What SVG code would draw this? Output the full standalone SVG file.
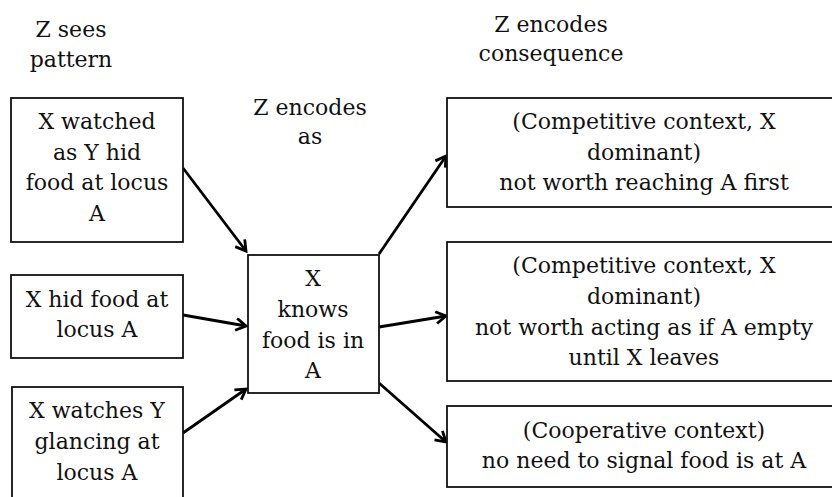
<svg xmlns="http://www.w3.org/2000/svg" width="832" height="497" viewBox="0 0 832 497">
<defs>
<style>
text{font-family:"DejaVu Serif","Liberation Serif",serif;font-size:22px;fill:#111;text-anchor:middle}
.box{fill:#fff;stroke:#111;stroke-width:1.8}
.conn line{stroke:#000;stroke-width:2.8;marker-end:url(#arr)}
</style>
<marker id="arr" markerUnits="userSpaceOnUse" markerWidth="16" markerHeight="16" refX="12" refY="7" orient="auto">
<path d="M2,1 L12,7 L2,13" fill="none" stroke="#000" stroke-width="2.8" stroke-linejoin="miter"/>
</marker>
</defs>
<rect width="832" height="497" fill="#fff"/>
<g id="labels">
<text x="71" y="37">Z sees</text>
<text x="71" y="67">pattern</text>
<text x="310" y="115">Z encodes</text>
<text x="310" y="144">as</text>
<text x="551" y="32">Z encodes</text>
<text x="551" y="61">consequence</text>
</g>
<g id="conn" class="conn">
<line x1="183" y1="168" x2="246" y2="251"/>
<line x1="183" y1="315" x2="246" y2="326"/>
<line x1="183" y1="433" x2="246" y2="389"/>
<line x1="379" y1="254" x2="446" y2="156"/>
<line x1="379" y1="327" x2="446" y2="316"/>
<line x1="379" y1="383" x2="446" y2="442"/>
</g>
<g id="n1"><rect class="box" x="11" y="98" width="172" height="144"/>
<text x="97" y="129">X watched</text><text x="97" y="160">as Y hid</text><text x="97" y="190">food at locus</text><text x="97" y="221">A</text></g>
<g id="n2"><rect class="box" x="11" y="275" width="172" height="83"/>
<text x="97" y="307">X hid food at</text><text x="97" y="337">locus A</text></g>
<g id="n3"><rect class="box" x="12" y="387" width="171" height="120"/>
<text x="97" y="418">X watches Y</text><text x="97" y="449">glancing at</text><text x="97" y="480">locus A</text></g>
<g id="c"><rect class="box" x="248" y="255" width="131" height="138"/>
<text x="313" y="286">X</text><text x="313" y="317">knows</text><text x="313" y="348">food is in</text><text x="313" y="378">A</text></g>
<g id="r1"><rect class="box" x="447" y="98" width="394" height="109"/>
<text x="644" y="129">(Competitive context, X</text><text x="644" y="160">dominant)</text><text x="644" y="190">not worth reaching A first</text></g>
<g id="r2"><rect class="box" x="447" y="242" width="394" height="139"/>
<text x="644" y="273">(Competitive context, X</text><text x="644" y="304">dominant)</text><text x="644" y="335">not worth acting as if A empty</text><text x="644" y="365">until X leaves</text></g>
<g id="r3"><rect class="box" x="447" y="406" width="394" height="81"/>
<text x="644" y="438">(Cooperative context)</text><text x="644" y="468">no need to signal food is at A</text></g>
</svg>
